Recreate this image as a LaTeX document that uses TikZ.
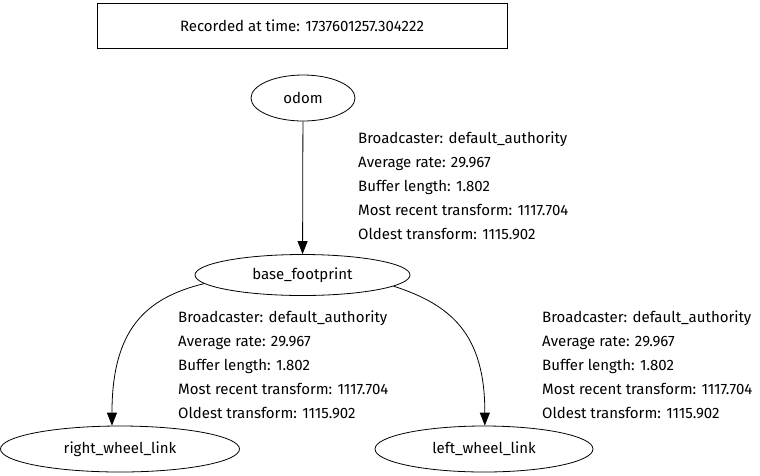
\documentclass[tikz,border=0pt]{standalone}
\usepackage{fontspec}
\setmainfont{Fira Sans}
\usetikzlibrary{shapes.geometric,arrows.meta}
\begin{document}
\begin{tikzpicture}[x=1pt,y=-1pt,
  frame/.style={draw,thick,minimum width=410pt,minimum height=45pt,inner sep=0pt},
  tf/.style={draw,ellipse,thick,inner sep=0pt,font=\fontsize{15}{16}\selectfont},
  lbl/.style={anchor=north west,align=left,inner sep=0pt,font=\fontsize{15}{24}\selectfont},
  edge/.style={thick,-{Triangle[length=13pt,width=10pt]}}]
\useasboundingbox (0,0) rectangle (760,475);
\node[frame,font=\fontsize{15}{16}\selectfont] (rec) at (302,25.5) {Recorded at time: 1737601257.304222};
\node[tf,minimum width=104pt,minimum height=46pt] (odom) at (303,98) {odom};
\node[tf,minimum width=215pt,minimum height=41pt] (bf) at (302.5,275) {base\_footprint};
\node[tf,minimum width=239pt,minimum height=46pt] (rw) at (120,449) {right\_wheel\_link};
\node[tf,minimum width=218pt,minimum height=46pt] (lw) at (484,449) {left\_wheel\_link};
\draw[edge] (odom) -- (bf);
\draw[edge] (bf.185) .. controls (145,298) and (112,330) .. (rw.109);
\draw[edge] (bf.-7) .. controls (452,305) and (485,335) .. (lw.88);
\node[lbl] (l1) at (358,132) {Broadcaster: default\_authority\\Average rate: 29.967\\Buffer length: 1.802\\Most recent transform: 1117.704\\Oldest transform: 1115.902};
\node[lbl] (l2) at (178,311) {Broadcaster: default\_authority\\Average rate: 29.967\\Buffer length: 1.802\\Most recent transform: 1117.704\\Oldest transform: 1115.902};
\node[lbl] (l3) at (542,311) {Broadcaster: default\_authority\\Average rate: 29.967\\Buffer length: 1.802\\Most recent transform: 1117.704\\Oldest transform: 1115.902};
\end{tikzpicture}
\end{document}
